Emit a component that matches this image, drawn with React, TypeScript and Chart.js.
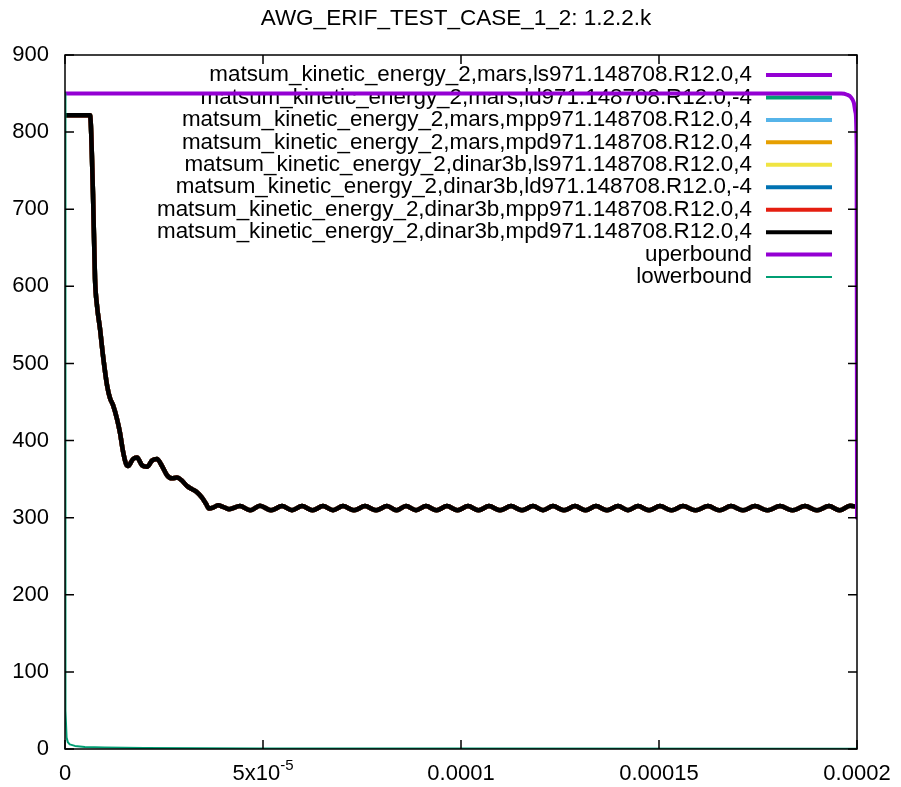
import React, { useEffect, useRef } from "react";
import { Chart, registerables } from "chart.js";

Chart.register(...registerables);

const FONT = '"Liberation Sans", Arial, Helvetica, sans-serif';
const TITLE = "AWG_ERIF_TEST_CASE_1_2: 1.2.2.k";

const seriesNames = [
  "matsum_kinetic_energy_2,mars,ls971.148708.R12.0,4",
  "matsum_kinetic_energy_2,mars,ld971.148708.R12.0,-4",
  "matsum_kinetic_energy_2,mars,mpp971.148708.R12.0,4",
  "matsum_kinetic_energy_2,mars,mpd971.148708.R12.0,4",
  "matsum_kinetic_energy_2,dinar3b,ls971.148708.R12.0,4",
  "matsum_kinetic_energy_2,dinar3b,ld971.148708.R12.0,-4",
  "matsum_kinetic_energy_2,dinar3b,mpp971.148708.R12.0,4",
  "matsum_kinetic_energy_2,dinar3b,mpd971.148708.R12.0,4",
  "uperbound",
  "lowerbound",
];
const seriesColors = [
  "#9400D3", "#009E73", "#56B4E9", "#E69F00", "#F0E442",
  "#0072B2", "#E51E10", "#000000", "#9400D3", "#009E73",
];
const seriesWidths = [4.5, 4.5, 4.5, 4.5, 4.5, 4.5, 4.5, 4.5, 4, 2];
const legendWidths = [4, 4, 4, 4, 4, 4, 4, 4, 4, 2];

// simulation curve (all eight runs overlap)
const runTime = [
  0, 6.31e-6, 7.07e-6, 7.58e-6, 8.08e-6, 8.84e-6, 9.6e-6, 10.61e-6, 11.36e-6, 12.12e-6,
  13.13e-6, 13.89e-6, 14.65e-6, 15.4e-6, 15.91e-6, 17.17e-6, 18.18e-6, 19.44e-6, 20.71e-6,
  21.97e-6, 23.23e-6, 24.49e-6, 25.76e-6, 27.02e-6, 28.28e-6, 29.55e-6, 30.81e-6, 32.07e-6,
  33.33e-6, 34.6e-6, 35.61e-6, 36.36e-6, 37.37e-6, 38.64e-6, 39.9e-6, 41.41e-6,
  44.19e-6, 46.72e-6, 49.24e-6, 52.02e-6, 54.8e-6, 57.32e-6, 59.85e-6, 62.5e-6, 65.15e-6,
  67.68e-6, 70.2e-6, 72.98e-6, 75.76e-6, 78.54e-6, 81.31e-6, 83.71e-6, 86.11e-6, 88.64e-6,
  91.16e-6, 93.81e-6, 96.46e-6, 99.12e-6, 101.77e-6, 104.42e-6, 107.07e-6, 109.85e-6,
  112.63e-6, 115.4e-6, 118.18e-6, 120.71e-6, 123.23e-6, 126.01e-6, 128.79e-6, 131.44e-6,
  134.09e-6, 136.87e-6, 139.65e-6, 142.17e-6, 144.7e-6, 147.48e-6, 150.25e-6, 153.16e-6,
  156.06e-6, 159.22e-6, 162.37e-6, 165.28e-6, 168.18e-6, 171.21e-6, 174.24e-6, 177.4e-6,
  180.56e-6, 183.71e-6, 186.87e-6, 189.9e-6, 192.93e-6, 195.59e-6, 198.23e-6, 200e-6,
];
const runEnergy = [
  822, 822, 720, 610, 575, 545, 510, 472, 455, 446,
  428, 410, 386, 370, 367, 376, 378, 368, 366,
  374, 376, 367, 355, 351, 352, 348, 341, 337,
  333, 326, 318, 312, 313, 316, 314, 311,
  315, 309.5, 315.5, 309.5, 315, 309.5, 315, 309.5, 315,
  309.5, 315, 309.5, 315, 309.5, 315, 309.5, 315, 309.5,
  315, 309.5, 315, 309.5, 315, 309.5, 315, 309.5,
  315, 309.5, 315, 309.5, 315, 309.5, 315, 309.5,
  315, 309.5, 315, 309.5, 315, 309.5, 315, 309.5,
  315, 309.5, 315, 309.5, 315, 309.5, 315, 309.5,
  315, 309.5, 315, 309.5, 315, 309.5, 315.5, 314,
];

const upperTime = [0, 196e-6, 197.5e-6, 198.5e-6, 199.2e-6, 199.6e-6, 199.9e-6, 200e-6];
const upperEnergy = [850, 850, 848.5, 845, 838, 826, 780, 300];

const lowerTime = [
  0, 0.05e-6, 0.1e-6, 0.2e-6, 0.4e-6, 0.7e-6, 1.2e-6, 2.5e-6, 5e-6, 10e-6, 20e-6, 50e-6, 100e-6, 200e-6,
];
const lowerEnergy = [850, 300, 120, 50, 15, 9, 6, 4, 2.5, 1.8, 1.2, 0.8, 0.5, 0.3];

const yMin = 0;
const yMax = 900;
const yStep = 100;
const xMin = 0;
const xMax = 0.0002;
const xTickValues = [0, 5e-5, 1e-4, 1.5e-4, 2e-4];
const xTickMain = ["0", "5x10", "0.0001", "0.00015", "0.0002"];
const xTickSup = ["", "-5", "", "", ""];

const toPoints = (xs: number[], ys: number[]) => xs.map((x, i) => ({ x, y: ys[i] }));

const decorPlugin = {
  id: "gnuplotDecor",
  beforeDatasetsDraw(chart: any) {
    const ctx = chart.ctx;
    ctx.save();
    ctx.font = `22.4px ${FONT}`;
    ctx.fillStyle = "#000";
    ctx.textAlign = "right";
    ctx.textBaseline = "middle";
    seriesNames.forEach((name, i) => {
      const y = 75 + i * 22.45;
      ctx.fillText(name, 752, y);
      ctx.beginPath();
      ctx.strokeStyle = seriesColors[i];
      ctx.lineWidth = legendWidths[i];
      ctx.moveTo(766, y);
      ctx.lineTo(832, y);
      ctx.stroke();
    });
    ctx.restore();
  },
  afterDatasetsDraw(chart: any) {
    const ctx = chart.ctx;
    const { left, right, top, bottom } = chart.chartArea;
    const xs = chart.scales.x;
    const ys = chart.scales.y;
    ctx.save();
    ctx.strokeStyle = "#000";
    ctx.lineWidth = 1.5;
    ctx.strokeRect(left, top, right - left, bottom - top);
    ctx.beginPath();
    for (let v = yMin; v <= yMax; v += yStep) {
      const py = ys.getPixelForValue(v);
      ctx.moveTo(left, py);
      ctx.lineTo(left + 9, py);
      ctx.moveTo(right, py);
      ctx.lineTo(right - 9, py);
    }
    xTickValues.forEach((v) => {
      const px = xs.getPixelForValue(v);
      ctx.moveTo(px, bottom);
      ctx.lineTo(px, bottom - 9);
      ctx.moveTo(px, top);
      ctx.lineTo(px, top + 9);
    });
    ctx.stroke();
    ctx.restore();
  },
  afterDraw(chart: any) {
    const ctx = chart.ctx;
    const xs = chart.scales.x;
    ctx.save();
    ctx.fillStyle = "#000";
    ctx.textBaseline = "middle";
    ctx.textAlign = "center";
    ctx.font = `22.5px ${FONT}`;
    ctx.fillText(TITLE, 456, 19);
    xTickValues.forEach((v, i) => {
      const px = xs.getPixelForValue(v);
      ctx.font = `22px ${FONT}`;
      const mainW = ctx.measureText(xTickMain[i]).width;
      ctx.font = `15px ${FONT}`;
      const supW = xTickSup[i] ? ctx.measureText(xTickSup[i]).width : 0;
      const start = px - (mainW + supW) / 2;
      ctx.textAlign = "left";
      ctx.font = `22px ${FONT}`;
      ctx.fillText(xTickMain[i], start, 774);
      if (xTickSup[i]) {
        ctx.font = `15px ${FONT}`;
        ctx.fillText(xTickSup[i], start + mainW, 766);
      }
    });
    ctx.restore();
  },
};

export default function App() {
  const canvasRef = useRef<HTMLCanvasElement | null>(null);

  useEffect(() => {
    if (!canvasRef.current) return;
    const runPts = toPoints(runTime, runEnergy);
    const datasets = seriesNames.map((name, i) => {
      let data = runPts;
      let mode: any = "monotone";
      if (i === 8) data = toPoints(upperTime, upperEnergy);
      if (i === 9) {
        data = toPoints(lowerTime, lowerEnergy);
        mode = "default";
      }
      return {
        label: name,
        data,
        borderColor: seriesColors[i],
        backgroundColor: seriesColors[i],
        borderWidth: seriesWidths[i],
        pointRadius: 0,
        fill: false,
        tension: 0,
        cubicInterpolationMode: mode,
        order: seriesNames.length - i,
        borderJoinStyle: "round" as const,
        borderCapStyle: "round" as const,
      };
    });

    const chart = new Chart(canvasRef.current, {
      type: "line",
      data: { datasets },
      plugins: [decorPlugin],
      options: {
        animation: false,
        responsive: false,
        maintainAspectRatio: false,
        devicePixelRatio: 1,
        layout: { padding: { left: 0, top: 55, right: 44, bottom: 0 } },
        plugins: {
          legend: { display: false },
          title: { display: false },
          tooltip: { enabled: false },
        },
        scales: {
          x: {
            type: "linear",
            min: xMin,
            max: xMax,
            ticks: { display: false, stepSize: 5e-5 },
            grid: { display: false, drawTicks: false },
            border: { display: false },
            afterFit: (s: any) => {
              s.height = 38;
            },
          },
          y: {
            type: "linear",
            min: yMin,
            max: yMax,
            ticks: {
              stepSize: yStep,
              color: "#000",
              font: { family: FONT, size: 22 },
              padding: 16,
            },
            grid: { display: false, drawTicks: false },
            border: { display: false },
            afterFit: (s: any) => {
              s.width = 65;
            },
          },
        },
      },
    });
    return () => chart.destroy();
  }, []);

  return (
    <div style={{ position: "fixed", left: 0, top: 0, width: 901, height: 787, background: "#fff" }}>
      <canvas ref={canvasRef} width={901} height={787} style={{ display: "block" }} />
    </div>
  );
}
